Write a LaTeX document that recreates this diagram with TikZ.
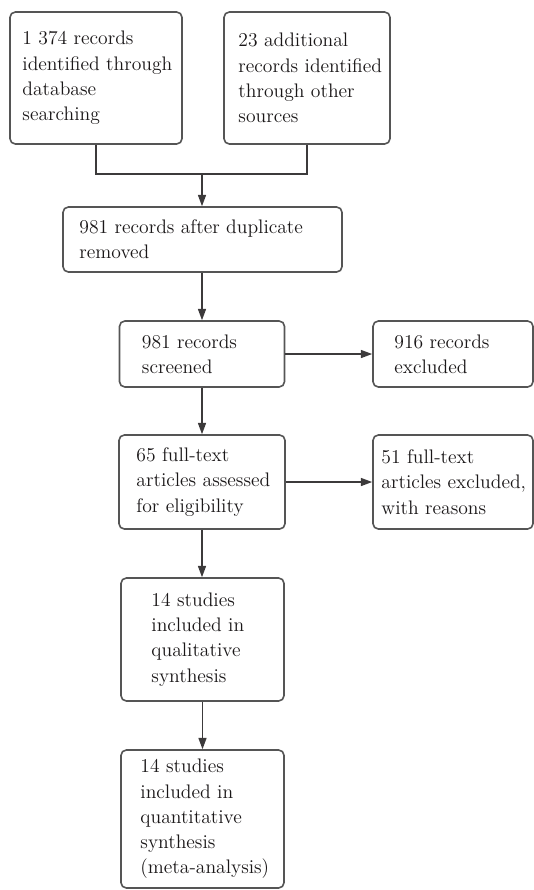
\documentclass[tikz,border=0pt]{standalone}
\usetikzlibrary{arrows.meta,calc}
\definecolor{boxline}{HTML}{555555}
\definecolor{arrline}{HTML}{3C3A3B}
\definecolor{txtcol}{HTML}{1A1718}
\tikzset{
  box/.style={draw=boxline, line width=1.2pt, rounded corners=4pt, inner sep=0pt, fill=white},
  txt/.style={anchor=west, align=left, inner sep=0pt, text=txtcol,
    font=\fontsize{14.7pt}{18.9pt}\selectfont},
  conn/.style={draw=arrline, line width=1.1pt},
  arr/.style={conn, -{Triangle[length=8.5pt,width=6pt]}}
}
\begin{document}
\begin{tikzpicture}[x=0.75pt,y=-0.75pt]
\useasboundingbox (0,0) rectangle (534,890);
% boxes
\node[box, minimum width={172*0.75pt}, minimum height={132*0.75pt}] (a) at (96,78) {};
\node[box, minimum width={166*0.75pt}, minimum height={132*0.75pt}] (b) at (307,78) {};
\node[box, minimum width={279*0.75pt}, minimum height={65*0.75pt}] (c) at (202.5,239.5) {};
\node[box, minimum width={165*0.75pt}, minimum height={66*0.75pt}] (d) at (202,354) {};
\node[box, minimum width={160*0.75pt}, minimum height={66*0.75pt}] (e) at (453,354) {};
\node[box, minimum width={166*0.75pt}, minimum height={94*0.75pt}] (f) at (202,482) {};
\node[box, minimum width={160*0.75pt}, minimum height={94*0.75pt}] (g) at (453,482) {};
\node[box, minimum width={163*0.75pt}, minimum height={123*0.75pt}] (h) at (202.5,639.5) {};
\node[box, minimum width={163*0.75pt}, minimum height={138*0.75pt}] (i) at (202.5,819) {};
% texts
\node[txt] (ta) at ([xshift={13*0.75pt}]a.west) {1 374 records\\identified through\\database\\searching};
\node[txt] (tb) at ([xshift={15*0.75pt}]b.west) {23 additional\\records identified\\through other\\sources};
\node[txt] (tc) at ([xshift={17*0.75pt}]c.west) {981 records after duplicate\\removed};
\node[txt] (td) at ([xshift={23*0.75pt}]d.west) {981 records\\screened};
\node[txt] (te) at ([xshift={22*0.75pt}]e.west) {916 records\\excluded};
\node[txt] (tf) at ([xshift={18*0.75pt}]f.west) {65 full-text\\articles assessed\\for eligibility};
\node[txt] (tg) at ([xshift={9*0.75pt}]g.west) {51 full-text\\articles excluded,\\with reasons};
\node[txt] (th) at ([xshift={31*0.75pt}]h.west) {14 studies\\included in\\qualitative\\synthesis};
\node[txt] (ti) at ([xshift={20*0.75pt}]i.west) {14 studies\\included in\\quantitative\\synthesis\\(meta-analysis)};
% connectors
\coordinate (j) at (202,174);
\draw[conn] (a.south) |- (j);
\draw[conn] (b.south) |- (j);
\draw[arr] (j) -- (j |- c.north);
\draw[arr] (c.south -| d.north) -- (d.north);
\draw[arr] (d.east) -- (e.west);
\draw[arr] (d.south) -- (d.south |- f.north);
\draw[arr] (f.east) -- (f.east -| g.west);
\draw[arr] (f.south) -- (f.south |- h.north);
\draw[arr] (h.south) -- (h.south |- i.north);
\end{tikzpicture}
\end{document}
